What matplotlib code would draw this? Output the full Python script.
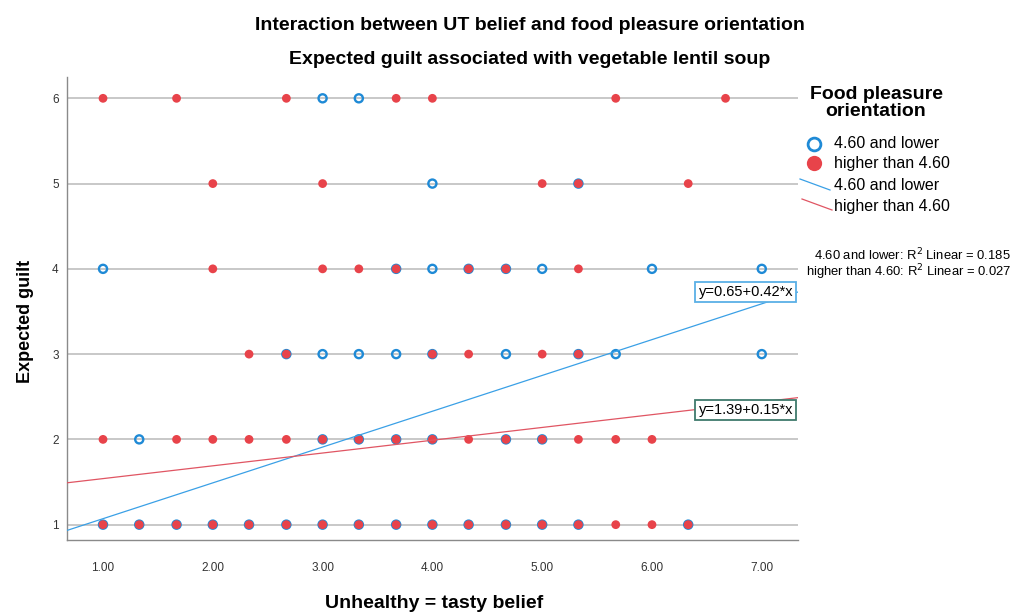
import matplotlib
matplotlib.use("Agg")
import matplotlib.pyplot as plt
import numpy as np
from matplotlib.lines import Line2D
from matplotlib.transforms import Bbox, TransformedBbox

plt.rcParams['font.family'] = ['Liberation Sans', 'DejaVu Sans']

# Unhealthy = tasty belief (x) and expected guilt (y), per orientation group
low_x = [3.00, 3.33,
         4.00,
         1.00, 3.67, 4.00, 4.33, 4.67, 5.00, 6.00, 7.00, 5.33,
         2.67, 3.00, 3.33, 3.67, 4.00, 4.67, 5.33, 5.67, 7.00,
         1.33, 3.00, 3.33, 3.67, 4.00, 4.67, 5.00,
         1.00, 1.33, 1.67, 2.00, 2.33, 2.67, 3.00, 3.33, 3.67, 4.00,
         4.33, 4.67, 5.00, 5.33, 6.33]
low_y = [6, 6,
         5,
         4, 4, 4, 4, 4, 4, 4, 4, 5,
         3, 3, 3, 3, 3, 3, 3, 3, 3,
         2, 2, 2, 2, 2, 2, 2,
         1, 1, 1, 1, 1, 1, 1, 1, 1, 1,
         1, 1, 1, 1, 1]

high_x = [1.00, 1.67, 2.67, 3.67, 4.00, 5.67, 6.67,
          2.00, 3.00, 5.00, 5.33, 6.33,
          2.00, 3.00, 3.33, 3.67, 4.33, 4.67, 5.33,
          2.33, 2.67, 4.00, 4.33, 5.00, 5.33,
          1.00, 1.67, 2.00, 2.33, 2.67, 3.00, 3.33, 3.67, 4.00, 4.33,
          4.67, 5.00, 5.33, 5.67, 6.00,
          1.00, 1.33, 1.67, 2.00, 2.33, 2.67, 3.00, 3.33, 3.67, 4.00,
          4.33, 4.67, 5.00, 5.33, 5.67, 6.00, 6.33]
high_y = [6, 6, 6, 6, 6, 6, 6,
          5, 5, 5, 5, 5,
          4, 4, 4, 4, 4, 4, 4,
          3, 3, 3, 3, 3, 3,
          2, 2, 2, 2, 2, 2, 2, 2, 2, 2,
          2, 2, 2, 2, 2,
          1, 1, 1, 1, 1, 1, 1, 1, 1, 1,
          1, 1, 1, 1, 1, 1, 1]

# Fit lines (intercept, slope) and R squared
low_fit = (0.65, 0.42)
high_fit = (1.39, 0.15)
low_r2 = 0.185
high_r2 = 0.027

group_labels = ["4.60 and lower", "higher than 4.60"]
x_ticks = [1, 2, 3, 4, 5, 6, 7]
y_ticks = [1, 2, 3, 4, 5, 6]

BLUE = '#1f8ad6'
RED = '#e8434a'
BLUE_LINE = '#3aa0e6'
RED_LINE = '#e05563'

W, H = 1013, 613
fig = plt.figure(figsize=(W / 100, H / 100), dpi=100)


def fx(px):
    return px / W


def fy(py):
    return 1 - py / H


ax = fig.add_axes([fx(67), fy(540), (798 - 67) / W, (540 - 77) / H])
xmin, xmax = 0.672, 7.33
ax.set_xlim(xmin, xmax)
ax.set_ylim(0.82, 6.25)

ax.set_yticks(y_ticks)
ax.set_xticks(x_ticks)
ax.set_xticklabels([f"{v:.2f}" for v in x_ticks])
ax.yaxis.grid(True, color='#c4c4c4', lw=1.3)
ax.set_axisbelow(True)
for s in ['top', 'right']:
    ax.spines[s].set_visible(False)
for s in ['left', 'bottom']:
    ax.spines[s].set_color('#8a8a8a')
    ax.spines[s].set_linewidth(1.0)
ax.tick_params(axis='both', length=0, labelsize=8.5, colors='#333333')
ax.tick_params(axis='x', pad=16)
ax.tick_params(axis='y', pad=6)

# Scatter points
ax.scatter(low_x, low_y, s=34, facecolors='none', edgecolors=BLUE,
           linewidths=1.7, zorder=3)
ax.scatter(high_x, high_y, s=40, color=RED, edgecolors='none', zorder=4)

# Fit lines
xs = np.array([xmin, xmax])
ax.plot(xs, low_fit[0] + low_fit[1] * xs, color=BLUE_LINE, lw=0.9, zorder=5)
ax.plot(xs, high_fit[0] + high_fit[1] * xs, color=RED_LINE, lw=0.9, zorder=5)

low_end = low_fit[0] + low_fit[1] * xmax
high_end = high_fit[0] + high_fit[1] * xmax
ax.annotate(f"y={low_fit[0]:.2f}+{low_fit[1]:.2f}*x", xy=(xmax, low_end),
            xytext=(-3.5, 0), textcoords='offset points', ha='right',
            va='center', fontsize=10.5, zorder=6, annotation_clip=False,
            bbox=dict(boxstyle='square,pad=0.22', fc='white', ec='#5ab0e6',
                      lw=1.3))
ax.annotate(f"y={high_fit[0]:.2f}+{high_fit[1]:.2f}*x", xy=(xmax, high_end),
            xytext=(-3.5, -9), textcoords='offset points', ha='right',
            va='center', fontsize=10.5, zorder=6, annotation_clip=False,
            bbox=dict(boxstyle='square,pad=0.22', fc='white', ec='#3f7a6c',
                      lw=1.3))

# Titles and axis labels
fig.text(fx(530), fy(25), "Interaction between UT belief and food pleasure orientation",
         ha='center', va='center', fontsize=14, fontweight='bold')
fig.text(fx(530), fy(60), "Expected guilt associated with vegetable lentil soup",
         ha='center', va='center', fontsize=14, fontweight='bold')
fig.text(fx(434), fy(603), "Unhealthy = tasty belief", ha='center', va='center',
         fontsize=14, fontweight='bold')
fig.text(fx(25), fy(321), "Expected guilt", ha='center', va='center',
         rotation=90, fontsize=13, fontweight='bold')

# Legend
fig.text(fx(876), fy(103), "Food pleasure\norientation", ha='center',
         va='center', fontsize=14, fontweight='bold', linespacing=1.05)
fig.add_artist(Line2D([fx(814)], [fy(144)], marker='o', markersize=9.2,
                      markerfacecolor='none', markeredgecolor=BLUE,
                      markeredgewidth=2.0, transform=fig.transFigure))
fig.add_artist(Line2D([fx(814)], [fy(163)], marker='o', markersize=11,
                      markerfacecolor=RED, markeredgecolor='none',
                      transform=fig.transFigure))
fig.add_artist(Line2D([fx(800), fx(830)], [fy(179), fy(190)], color=BLUE_LINE,
                      lw=0.9, transform=fig.transFigure))
fig.add_artist(Line2D([fx(802), fx(832)], [fy(199), fy(210)], color=RED_LINE,
                      lw=0.9, transform=fig.transFigure))
for py, lab in zip([144, 164, 185, 206], group_labels * 2):
    fig.text(fx(834), fy(py), lab, ha='left', va='center', fontsize=11.5)

clip = TransformedBbox(Bbox([[fx(800), 0], [1, 1]]), fig.transFigure)
for py, lab, r2 in zip([255, 272], group_labels, [low_r2, high_r2]):
    t = fig.text(fx(1011), fy(py), f"{lab}: R$^2$ Linear = {r2:.3f}",
                 ha='right', va='center', fontsize=9.4)
    t.set_clip_box(clip)
    t.set_clip_on(True)

fig.savefig("out.png", dpi=100, facecolor='white')
